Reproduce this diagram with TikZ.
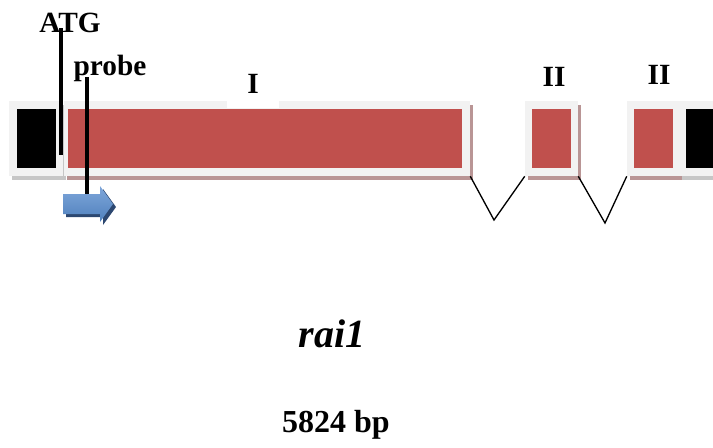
\documentclass[tikz,border=0pt]{standalone}
\usepackage{fontspec}
\setmainfont{Liberation Serif}
\usetikzlibrary{shadows}

\definecolor{exonred}{HTML}{C0504D}
\definecolor{framegray}{HTML}{F2F2F2}
\definecolor{rosyshade}{HTML}{B99595}
\definecolor{greyshade}{HTML}{C6C6C6}
\definecolor{probeblue}{HTML}{4F81BD}
\definecolor{probelight}{HTML}{7FA6DA}
\definecolor{probedark}{HTML}{2C4770}

\tikzset{
  frame/.style={fill=framegray, inner sep=0pt, minimum width=#1, minimum height=56.25pt},
  redshadow/.style={drop shadow={shadow xshift=2.25pt, shadow yshift=-3pt, fill=rosyshade, opacity=1}},
  greyshadow/.style={drop shadow={shadow xshift=2.25pt, shadow yshift=-3pt, fill=greyshade, opacity=1}},
  exonfill/.style={fill=exonred, inner sep=0pt, minimum width=#1, minimum height=44.25pt},
  utrfill/.style={fill=black, inner sep=0pt, minimum width=#1, minimum height=44.25pt},
  lbl/.style={font=\fontsize{22}{24}\selectfont\bfseries, inner sep=0pt, anchor=base},
  pin/.style={line width=2.6pt}
}

\begin{document}
\begin{tikzpicture}[x=0.75pt,y=-0.75pt]
    \useasboundingbox (0,0) rectangle (713,447);

    % gene frames
    \node[frame=40.5pt, greyshadow] (utrA) at (36,138.5) {};
    \node[frame=304.5pt, redshadow] (exonA) at (267,138.5) {};
    \node[frame=39.75pt, redshadow] (exonB) at (551.5,138.5) {};
    \node[frame=39pt, redshadow] (exonC) at (653,138.5) {};
    \node[frame=25.5pt, greyshadow] (utrB) at (696,138.5) {};

    % coding and non coding parts
    \node[utrfill=29.25pt] (utrAin) at (36.5,138.5) {};
    \node[exonfill=295.5pt] (exonAin) at (265,138.5) {};
    \node[exonfill=29.25pt] (exonBin) at (551.5,138.5) {};
    \node[exonfill=29.25pt] (exonCin) at (653.5,138.5) {};
    \node[utrfill=20.25pt] (utrBin) at (699.5,138.5) {};

    % introns
    \coordinate (intA) at (494,220);
    \coordinate (intB) at (605,223);
    \draw[line width=1pt] (exonA.south east) -- (intA) -- (exonB.south west);
    \draw[line width=1pt] (exonB.south east) -- (intB) -- (exonC.south west);

    % labels
    \node[lbl] (atg) at (70,32) {ATG};
    \node[lbl] (probe) at (110,75) {probe};
    \node[lbl, fill=white, minimum width=39pt, text depth=11.5pt] (exI) at (253,93) {I};
    \node[lbl] (exII) at (554,86) {II};
    \node[lbl] (exIII) at (659,84) {II};

    % start codon and probe marks
    \coordinate (atgtop) at (61,28);
    \coordinate (atgbot) at (61,155);
    \coordinate (probetop) at (87,77);
    \coordinate (probebot) at (87,194);
    \draw[pin] (atgtop) -- (atgbot);
    \draw[pin] (probetop) -- (probebot);

    % probe arrow
    \fill[probedark, shift={(3,3)}] (63,194) -- (100,194) -- (100,186) -- (113,204)
        -- (100,222) -- (100,214) -- (63,214) -- cycle;
    \shade[top color=probelight, bottom color=probeblue] (63,194) -- (100,194) -- (100,186)
        -- (113,204) -- (100,222) -- (100,214) -- (63,214) -- cycle;

    \node[anchor=base, inner sep=0pt, font=\fontsize{30}{32}\selectfont\bfseries\itshape] (gene) at (332,347) {rai1};
    \node[anchor=base, inner sep=0pt, font=\fontsize{24}{26}\selectfont\bfseries] (size) at (336,432) {5824 bp};
\end{tikzpicture}
\end{document}
